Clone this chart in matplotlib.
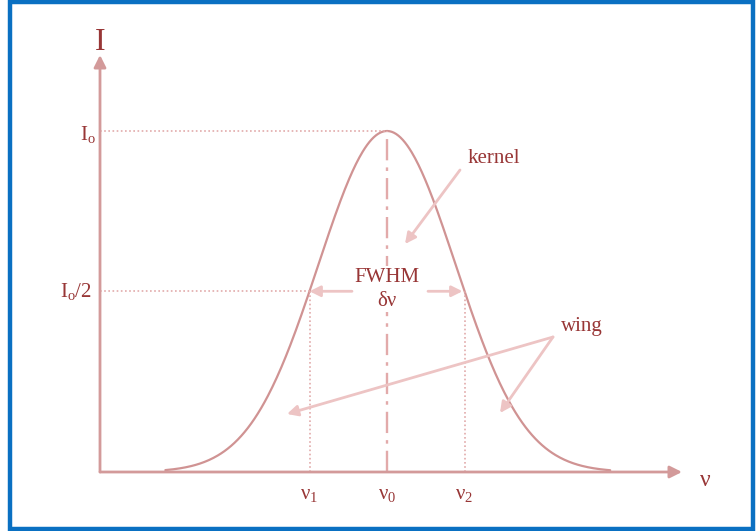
import matplotlib.pyplot as plt
import numpy as np
from matplotlib.patches import Rectangle

plt.rcParams["font.family"] = ["Liberation Serif", "DejaVu Serif"]
plt.rcParams["mathtext.fontset"] = "custom"
plt.rcParams["mathtext.rm"] = "Liberation Serif"
plt.rcParams["mathtext.it"] = "Liberation Serif:italic"

# line profile parameters (nu0 at 0, half width points at -1 / +1, peak I0 = 1)
nu0 = 0.0
half_width = 1.0
i0 = 1.0
half_level = 0.53  # drawn level of the I0/2 guide in the sketch
nu_range = [-2.86, 2.88]
nu_ticks = [-1.0, 0.0, 1.0]
nu_tick_labels = ["ν$_1$", "ν$_0$", "ν$_2$"]

TEXT = "#983636"
AXIS = "#D39A9A"
CURVE = "#D09393"
DOT = "#E2AAAA"
ARROW = "#EDC4C4"

# pixel -> data scale
px_x = 77.5
px_y = 341.0


def profile(nu):
    a = -np.log(half_level / i0) / half_width ** 2
    return i0 * np.exp(-a * (nu - nu0) ** 2)


def px(x, y):
    return ((x - 387) / px_x, (472 - y) / px_y)


fig = plt.figure(figsize=(7.56, 5.31), dpi=100)
ax = fig.add_axes([0, 0, 1, 1])
ax.set_xlim(-387 / px_x, (756 - 387) / px_x)
ax.set_ylim(-(531 - 472) / px_y, 472 / px_y)
ax.axis("off")

x_axis0 = (100 - 387) / px_x
x_axis1 = (682 - 387) / px_x
y_axis1 = (472 - 55) / px_y

arrow_kw = dict(arrowstyle="-|>", lw=2, mutation_scale=18, shrinkA=0, shrinkB=0)

# axes with arrows
ax.annotate("", xy=(x_axis1, 0), xytext=(x_axis0, 0), arrowprops=dict(color=AXIS, **arrow_kw))
ax.annotate("", xy=(x_axis0, y_axis1), xytext=(x_axis0, 0), arrowprops=dict(color=AXIS, **arrow_kw))
ax.text(*px(100, 42), "I", color=TEXT, fontsize=23, ha="center", va="center")
ax.text(*px(705, 480), "ν", color=TEXT, fontsize=17, ha="center", va="center")

# profile
nu = np.linspace(nu_range[0], nu_range[1], 400)
ax.plot(nu, profile(nu), color=CURVE, lw=1.6, solid_capstyle="round")

nu1 = nu0 - half_width
nu2 = nu0 + half_width
dotted = (0, (1, 1.5))

# guide lines
ax.plot([x_axis0, nu0], [i0, i0], color=DOT, lw=1.2, ls=dotted)
ax.plot([x_axis0, nu1], [half_level, half_level], color=DOT, lw=1.2, ls=dotted)
ax.plot([nu1, nu1], [0, half_level], color=DOT, lw=1.2, ls=dotted)
ax.plot([nu2, nu2], [0, half_level], color=DOT, lw=1.2, ls=dotted)
ax.plot([nu0, nu0], [0, i0], color=DOT, lw=1.7, ls=(0, (9, 3, 1.5, 3)))

ax.text(x_axis0 - 4 / px_x, i0 - 3 / px_y, "I$_\\mathrm{o}$", color=TEXT, fontsize=15, ha="right", va="center")
ax.text(x_axis0 - 8 / px_x, half_level, "I$_\\mathrm{o}$/2", color=TEXT, fontsize=15, ha="right", va="center")

for t, lab in zip(nu_ticks, nu_tick_labels):
    ax.text(t, -(494 - 472) / px_y, lab, color=TEXT, fontsize=15, ha="center", va="center")

# FWHM arrows and label
small_kw = dict(arrow_kw, mutation_scale=16)
ax.annotate("", xy=(nu1, half_level), xytext=((352 - 387) / px_x, half_level),
            arrowprops=dict(color=ARROW, **small_kw))
ax.annotate("", xy=(nu2 - 2 / px_x, half_level), xytext=((428 - 387) / px_x, half_level),
            arrowprops=dict(color=ARROW, **small_kw))
ax.text(*px(387, 278), "FWHM", color=TEXT, fontsize=15, ha="center", va="center",
        bbox=dict(facecolor="white", edgecolor="none", pad=2))
ax.text(*px(387, 301), "δν", color=TEXT, fontsize=15, ha="center", va="center",
        bbox=dict(facecolor="white", edgecolor="none", pad=1))

# annotations
ax.text(*px(494, 158), "kernel", color=TEXT, fontsize=15, ha="center", va="center")
ax.annotate("", xy=px(405, 244), xytext=px(460, 170), arrowprops=dict(color=ARROW, **small_kw))
ax.text(*px(582, 327), "wing", color=TEXT, fontsize=15, ha="center", va="center")
ax.annotate("", xy=px(287, 414), xytext=px(553, 337), arrowprops=dict(color=ARROW, **small_kw))
ax.annotate("", xy=px(500, 413), xytext=px(553, 337), arrowprops=dict(color=ARROW, **small_kw))

# blue frame
fig.patches.append(Rectangle((10 / 756, 2 / 531), 743 / 756, 527 / 531, transform=fig.transFigure,
                             fill=False, edgecolor="#0A70C2", lw=3.2))

fig.savefig("out.png", dpi=100)
